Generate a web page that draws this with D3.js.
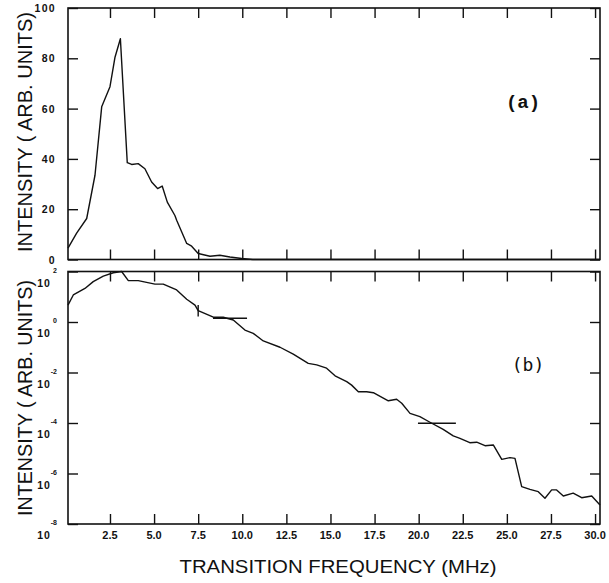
<!DOCTYPE html>
<html>
<head>
<meta charset="utf-8">
<script src="https://d3js.org/d3.v7.min.js"></script>
<style>
  body { margin: 0; background: #fff; }
  .frame { fill: none; stroke: #111; stroke-width: 1.6px; }
  .curve { fill: none; stroke: #111; stroke-width: 1.4px; stroke-linejoin: round; }
  .bar { stroke: #111; stroke-width: 1.4px; }
  .tick line { stroke: #111; stroke-width: 1.4px; }
  text { fill: #111; font-family: "Liberation Sans", Arial, sans-serif; }
</style>
</head>
<body>
<svg id="chart" width="609" height="583"></svg>
<script>
// panel (a): linear intensity
var freqA = [0.12, 0.61, 1.18, 1.65, 2.03, 2.5, 2.78, 3.09, 3.48, 3.73, 4.1, 4.48, 4.86, 5.2, 5.46,
  5.75, 6.18, 6.28, 6.85, 7.13, 7.5, 8.17, 8.73, 9.3, 9.97, 10.6, 30.28];
var intensityA = [4.5, 10.5, 16.3, 33.5, 60.7, 68.7, 80.3, 87.8, 38.5, 37.8, 38.1, 36.1, 30.8, 28.2, 29.2,
  22.8, 17.5, 15.6, 6.4, 5.3, 2.4, 1.3, 1.7, 1.0, 0.4, 0, 0];

// panel (b): log10 of intensity
var freqB = [0.12, 0.42, 1.08, 1.55, 2.12, 2.69, 3.16, 3.54, 4.1, 5.05, 5.52, 6.28, 6.85, 7.32, 7.5,
  8.36, 8.92, 9.49, 10.15, 10.62, 11.19, 12.14, 12.89, 13.74, 14.22, 14.78, 15.26, 15.92, 16.2, 16.58,
  17.05, 17.43, 18.28, 18.75, 19.04, 19.51, 20.07, 20.64, 21.39, 21.96, 22.34, 22.9, 23.29, 23.76, 24.23,
  24.71, 25.18, 25.46, 25.84, 26.31, 26.78, 27.16, 27.54, 27.82, 28.2, 28.76, 29.24, 29.81, 30.28];
var logIntensityB = [0.67, 1.07, 1.33, 1.6, 1.82, 1.95, 2.0, 1.64, 1.64, 1.5, 1.5, 1.27, 0.9, 0.67, 0.45,
  0.19, 0.19, 0.08, -0.32, -0.45, -0.75, -1.0, -1.27, -1.64, -1.7, -1.83, -2.13, -2.36, -2.5, -2.76,
  -2.76, -2.8, -3.12, -3.06, -3.22, -3.62, -3.75, -3.97, -4.25, -4.51, -4.61, -4.78, -4.76, -4.9, -4.87,
  -5.44, -5.37, -5.4, -6.52, -6.63, -6.72, -6.98, -6.65, -6.65, -6.89, -6.78, -6.96, -6.89, -7.25];

// resolution markers in panel (b)
var hBarFrom = [8.34, 19.96];
var hBarTo = [10.27, 22.11];
var hBarLog = [0.15, -4.01];
var vBarFreq = [7.5];
var vBarLogFrom = [0.67];
var vBarLogTo = [0.22];

var xTicks = [2.5, 5, 7.5, 10, 12.5, 15, 17.5, 20, 22.5, 25, 27.5, 30];
var xTickLabels = ["2.5", "5.0", "7.5", "10.0", "12.5", "15.0", "17.5", "20.0", "22.5", "25.0", "27.5", "30.0"];
var yTicksA = [0, 20, 40, 60, 80, 100];
var yTicksB = [2, 0, -2, -4, -6, -8];

var svg = d3.select("#chart");
var left = 68, right = 600;
var topA = 8, botA = 259.5, topB = 271.5, botB = 524;

var x = d3.scaleLinear().domain([0.12, 30.28]).range([left, right]);
var yA = d3.scaleLinear().domain([0, 100]).range([botA, topA]);
var yB = d3.scaleLog().domain([1e-8, 1e2]).range([botB, topB]);
function pow10(v) { return Math.pow(10, v); }

function inwardAxes(y0, y1, yScale, yVals) {
  svg.append("g").attr("transform", "translate(0," + y1 + ")")
    .call(d3.axisBottom(x).tickValues(xTicks).tickSize(-10).tickFormat(""))
    .select(".domain").remove();
  svg.append("g").attr("transform", "translate(0," + y0 + ")")
    .call(d3.axisTop(x).tickValues(xTicks).tickSize(-10).tickFormat(""))
    .select(".domain").remove();
  svg.append("g").attr("transform", "translate(" + left + ",0)")
    .call(d3.axisLeft(yScale).tickValues(yVals).tickSize(-10).tickFormat(""))
    .select(".domain").remove();
  svg.append("g").attr("transform", "translate(" + right + ",0)")
    .call(d3.axisRight(yScale).tickValues(yVals).tickSize(-10).tickFormat(""))
    .select(".domain").remove();
  svg.append("rect").attr("class", "frame")
    .attr("x", left).attr("y", y0).attr("width", right - left).attr("height", y1 - y0);
}

inwardAxes(topA, botA, yA, yTicksA);
inwardAxes(topB, botB, yB, yTicksB.map(pow10));

// curves
var lineA = d3.line().x(function(d) { return x(d[0]); }).y(function(d) { return yA(d[1]); });
svg.append("path").attr("class", "curve").attr("d", lineA(d3.zip(freqA, intensityA)));

var lineB = d3.line().x(function(d) { return x(d[0]); }).y(function(d) { return yB(pow10(d[1])); });
svg.append("path").attr("class", "curve").attr("d", lineB(d3.zip(freqB, logIntensityB)));

hBarFrom.forEach(function(f, i) {
  svg.append("line").attr("class", "bar")
    .attr("x1", x(f)).attr("x2", x(hBarTo[i]))
    .attr("y1", yB(pow10(hBarLog[i]))).attr("y2", yB(pow10(hBarLog[i])));
});
vBarFreq.forEach(function(f, i) {
  svg.append("line").attr("class", "bar")
    .attr("x1", x(f)).attr("x2", x(f))
    .attr("y1", yB(pow10(vBarLogFrom[i]))).attr("y2", yB(pow10(vBarLogTo[i])));
});

// y tick labels, panel (a)
svg.selectAll(".ylabA").data(yTicksA).enter().append("text")
  .attr("class", "ylabA")
  .attr("x", 56).attr("y", function(d) { return yA(d) + 4; })
  .attr("text-anchor", "end")
  .attr("font-size", 10.5).attr("font-weight", "bold").attr("letter-spacing", 1.3)
  .text(function(d) { return d; });

// y tick labels, panel (b): 10 with exponent
var logLab = svg.selectAll(".ylabB").data(yTicksB).enter().append("g").attr("class", "ylabB");
logLab.append("text")
  .attr("x", 44).attr("y", function(d) { return yB(pow10(d)) + 15; })
  .attr("text-anchor", "middle")
  .attr("font-size", 10.5).attr("font-weight", "bold").attr("letter-spacing", 1)
  .text("10");
logLab.append("text")
  .attr("x", 57).attr("y", function(d) { return yB(pow10(d)) + 1; })
  .attr("text-anchor", "end")
  .attr("font-size", 7).attr("font-weight", "bold")
  .text(function(d) { return d; });

// x tick labels
svg.selectAll(".xlab").data(xTicks).enter().append("text")
  .attr("class", "xlab")
  .attr("x", function(d) { return x(d); }).attr("y", 539)
  .attr("text-anchor", "middle")
  .attr("font-size", 11).attr("font-weight", "bold")
  .text(function(d, i) { return xTickLabels[i]; });

// axis titles
svg.append("text")
  .attr("x", 338).attr("y", 573)
  .attr("text-anchor", "middle").attr("font-size", 19)
  .attr("textLength", 317).attr("lengthAdjust", "spacingAndGlyphs")
  .text("TRANSITION FREQUENCY (MHz)");

[[132, 240], [398, 236]].forEach(function(p) {
  svg.append("text")
    .attr("transform", "translate(32," + p[0] + ") rotate(-90)")
    .attr("text-anchor", "middle").attr("font-size", 21)
    .attr("textLength", p[1]).attr("lengthAdjust", "spacingAndGlyphs")
    .text("INTENSITY ( ARB. UNITS)");
});

// panel tags
svg.append("text")
  .attr("x", 523).attr("y", 108).attr("text-anchor", "middle")
  .style("font-family", "'Liberation Mono', monospace").attr("font-weight", "bold").attr("font-size", 19)
  .text("(a)");
svg.append("text")
  .attr("x", 528).attr("y", 371).attr("text-anchor", "middle")
  .style("font-family", "'DejaVu Sans Mono', monospace").attr("font-size", 18)
  .text("(b)");
</script>
</body>
</html>
